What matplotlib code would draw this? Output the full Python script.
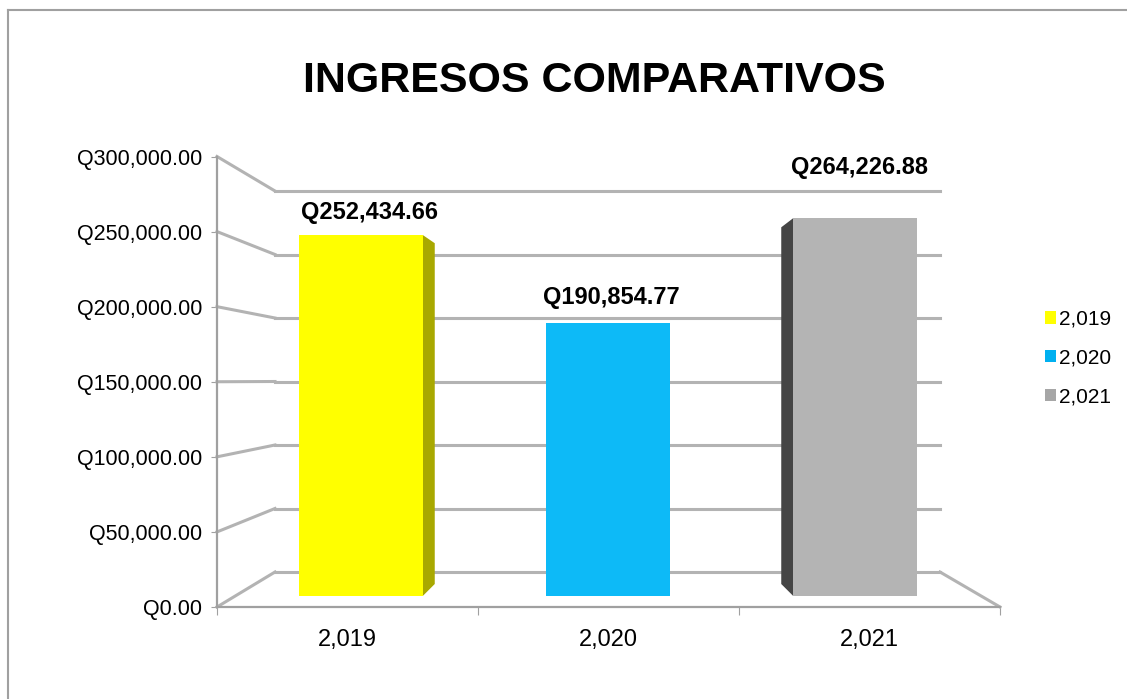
import numpy as np
import matplotlib
matplotlib.use("Agg")
import matplotlib.pyplot as plt
from matplotlib.patches import Patch, Polygon
from matplotlib.lines import Line2D

plt.rcParams['font.family'] = ['Liberation Sans', 'DejaVu Sans']

# datos
years = ['2,019', '2,020', '2,021']
ingresos = [252434.66, 190854.77, 264226.88]
bar_colors = ['#ffff00', '#0dbaf7', '#b4b4b4']
side_colors = ['#a8a800', '#0a95c8', '#454545']
legend_colors = ['#ffff00', '#00b0f0', '#a6a6a6']
y_ticks = [0, 50000, 100000, 150000, 200000, 250000, 300000]
label_dy = [11, 14, 39]  # desplazamiento de etiquetas (px)
label_dx = [9, 3, 5]

W, H = 1127, 699
fig = plt.figure(figsize=(W / 100, H / 100), dpi=100)


def rect(x0, y0, x1, y1):
    # pixeles (origen arriba-izquierda) -> fraccion de figura
    return [x0 / W, 1 - y1 / H, (x1 - x0) / W, (y1 - y0) / H]


grid_c = '#b3b3b3'
axis_c = '#a0a0a0'

# pared del fondo
ax_back = fig.add_axes(rect(275, 191, 940, 572), zorder=1)
ax_back.set_xlim(0, 3)
ax_back.set_ylim(0, 300000)
for v in y_ticks:
    ax_back.axhline(v, color=grid_c, lw=2.2, clip_on=False)
ax_back.axis('off')

# plano frontal (ejes)
ax = fig.add_axes(rect(217, 156.5, 1000, 607), zorder=2)
ax.patch.set_alpha(0)
ax.set_xlim(0, 3)
ax.set_ylim(0, 300000)
for s in ['top', 'right']:
    ax.spines[s].set_visible(False)
for s in ['left', 'bottom']:
    ax.spines[s].set_color(axis_c)
    ax.spines[s].set_linewidth(1.6)
ax.set_yticks(y_ticks)
ax.set_yticklabels(['Q{:,.2f}'.format(v) for v in y_ticks], fontsize=15.5)
ax.tick_params(axis='y', length=4.5, color=axis_c, pad=6)
ax.set_xticks([0, 1, 2, 3])
ax.set_xticklabels([])
ax.tick_params(axis='x', which='major', length=6, color=axis_c)
ax.set_xticks([0.5, 1.5, 2.5], minor=True)
ax.set_xticklabels(years, minor=True, fontsize=17)
ax.tick_params(axis='x', which='minor', length=0, pad=16)

# lineas de la pared izquierda y del piso
to_front = lambda p: ax.transData.inverted().transform(ax_back.transData.transform(p))
for v in y_ticks:
    bx, by = to_front((0, v))
    ax.plot([0, bx], [v, by], color=grid_c, lw=2.2, clip_on=False)
bx, by = to_front((3, 0))
ax.plot([3, bx], [0, by], color=grid_c, lw=2.2, clip_on=False)

# plano trasero de las barras
ax_bb = fig.add_axes(rect(261.5, 179, 954.5, 584), zorder=3)
ax_bb.set_xlim(-0.5, 2.5)
ax_bb.set_ylim(0, 300000)
ax_bb.axis('off')

# barras
ax_bar = fig.add_axes(rect(237.5, 167, 978.5, 596), zorder=4)
ax_bar.set_xlim(-0.5, 2.5)
ax_bar.set_ylim(0, 300000)
ax_bar.axis('off')
x = np.arange(len(years))
bw = 0.5
to_bar = lambda p: ax_bar.transData.inverted().transform(ax_bb.transData.transform(p))
for i, val in enumerate(ingresos):
    if i != 1:
        edge = x[i] + bw / 2 if i == 0 else x[i] - bw / 2
        bk0 = to_bar((edge, 0))
        bk1 = to_bar((edge, val))
        poly = Polygon([(edge, 0), (edge, val), tuple(bk1), tuple(bk0)],
                       closed=True, facecolor=side_colors[i], edgecolor='none',
                       clip_on=False)
        ax_bar.add_patch(poly)
ax_bar.bar(x, ingresos, width=bw, color=bar_colors, edgecolor='none', zorder=3)
for i, val in enumerate(ingresos):
    ax_bar.annotate('Q{:,.2f}'.format(val), (x[i], val),
                    xytext=(label_dx[i], label_dy[i]), textcoords='offset pixels',
                    ha='center', va='bottom', fontsize=17, fontweight='bold',
                    annotation_clip=False)

# titulo
fig.text(594 / W, 1 - 81 / H, 'INGRESOS COMPARATIVOS', ha='center', va='center',
         fontsize=31, fontweight='bold')

# leyenda
handles = [Patch(facecolor=c, edgecolor='none') for c in legend_colors]
fig.legend(handles, years, loc='center left', bbox_to_anchor=(1045 / W, 1 - 358 / H),
           frameon=False, fontsize=15, handlelength=0.55, handleheight=0.55,
           handletextpad=0.1, labelspacing=0.95, borderpad=0, borderaxespad=0)

# borde
fig.add_artist(Line2D([8 / W, 8 / W], [0, 1 - 10 / H], color='#a0a0a0', lw=1.5))
fig.add_artist(Line2D([8 / W, 1], [1 - 10 / H, 1 - 10 / H], color='#a0a0a0', lw=1.5))

fig.savefig('out.png', dpi=100)
